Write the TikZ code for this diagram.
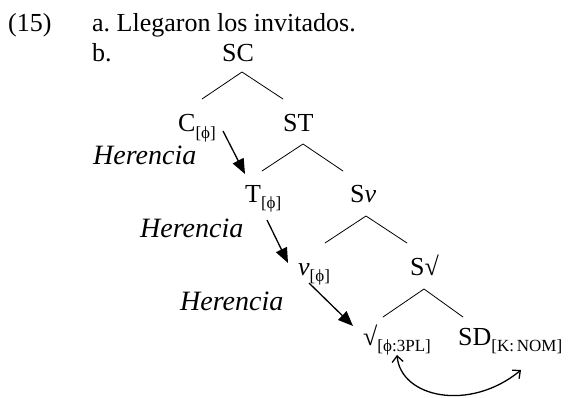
\documentclass[tikz,border=0pt]{standalone}
\usepackage{fontspec}
\setmainfont{Liberation Serif}
\usetikzlibrary{arrows.meta}
\frenchspacing
\newcommand\subsc[1]{\raisebox{-6.5pt}{\fontsize{17}{17}\selectfont #1}}
\begin{document}
\begin{tikzpicture}[x=1pt,y=-1pt,
  lbl/.style={anchor=base west, inner sep=0pt, font=\fontsize{26}{30}\selectfont},
  her/.style={anchor=base west, inner sep=0pt, font=\fontsize{28}{32}\selectfont\itshape},
  branch/.style={line width=0.8pt, line cap=round},
  inh/.style={line width=1.3pt, -{Triangle[length=15pt,width=12pt]}},
  agr/.style={line width=1.3pt, {Straight Barb[length=6pt,width=11pt]}-{Straight Barb[length=6pt,width=11pt]}}]
\useasboundingbox (0,0) rectangle (575,398);

% texts
\node[lbl] (ex) at (8,32) {(15)};
\node[lbl] (a) at (92,32) {a. Llegaron los invitados.};
\node[lbl] (b) at (92,62) {b.};
\node[lbl] (SC) at (222,62) {SC};
\node[lbl] (C) at (178,132) {C\subsc{[ϕ]}};
\node[lbl] (ST) at (283,132) {ST};
\node[her] (h1) at (93,165) {Herencia};
\node[lbl] (T) at (245,202) {T\subsc{[ϕ]}};
\node[lbl] (Sv) at (350,202) {S\textit{v}};
\node[her] (h2) at (140,237) {Herencia};
\node[lbl] (v) at (298,275) {\textit{v}\subsc{[ϕ]}};
\node[lbl] (Sr) at (410,275) {S√};
\node[her] (h3) at (180,310) {Herencia};
\node[lbl] (r) at (363,345) {√\subsc{[ϕ:3PL]}};
\node[lbl] (SD) at (458,345) {SD\subsc{[K:\,NOM]}};

% branch points
\coordinate (scA) at (242,72);  \coordinate (scL) at (202,99);  \coordinate (scR) at (283,99);
\coordinate (stA) at (303,144); \coordinate (stL) at (262,171); \coordinate (stR) at (343,171);
\coordinate (svA) at (366,216); \coordinate (svL) at (325,243); \coordinate (svR) at (407,243);
\coordinate (srA) at (424,289); \coordinate (srL) at (383,317); \coordinate (srR) at (463,317);

\draw[branch] (scL) -- (scA) -- (scR);
\draw[branch] (stL) -- (stA) -- (stR);
\draw[branch] (svL) -- (svA) -- (svR);
\draw[branch] (srL) -- (srA) -- (srR);

% inheritance arrows
\coordinate (c1) at (223,131); \coordinate (t1) at (245,174);
\coordinate (t2) at (267,220); \coordinate (v1) at (288,263);
\coordinate (v2) at (309,283); \coordinate (r1) at (353,326);
\draw[inh] (c1) -- (t1);
\draw[inh] (t2) -- (v1);
\draw[inh] (v2) -- (r1);

% agreement arrow
\coordinate (rA) at (397,355); \coordinate (sdA) at (521,370);
\draw[agr] (rA) .. controls (401,398) and (470,412) .. (sdA);
\end{tikzpicture}
\end{document}
